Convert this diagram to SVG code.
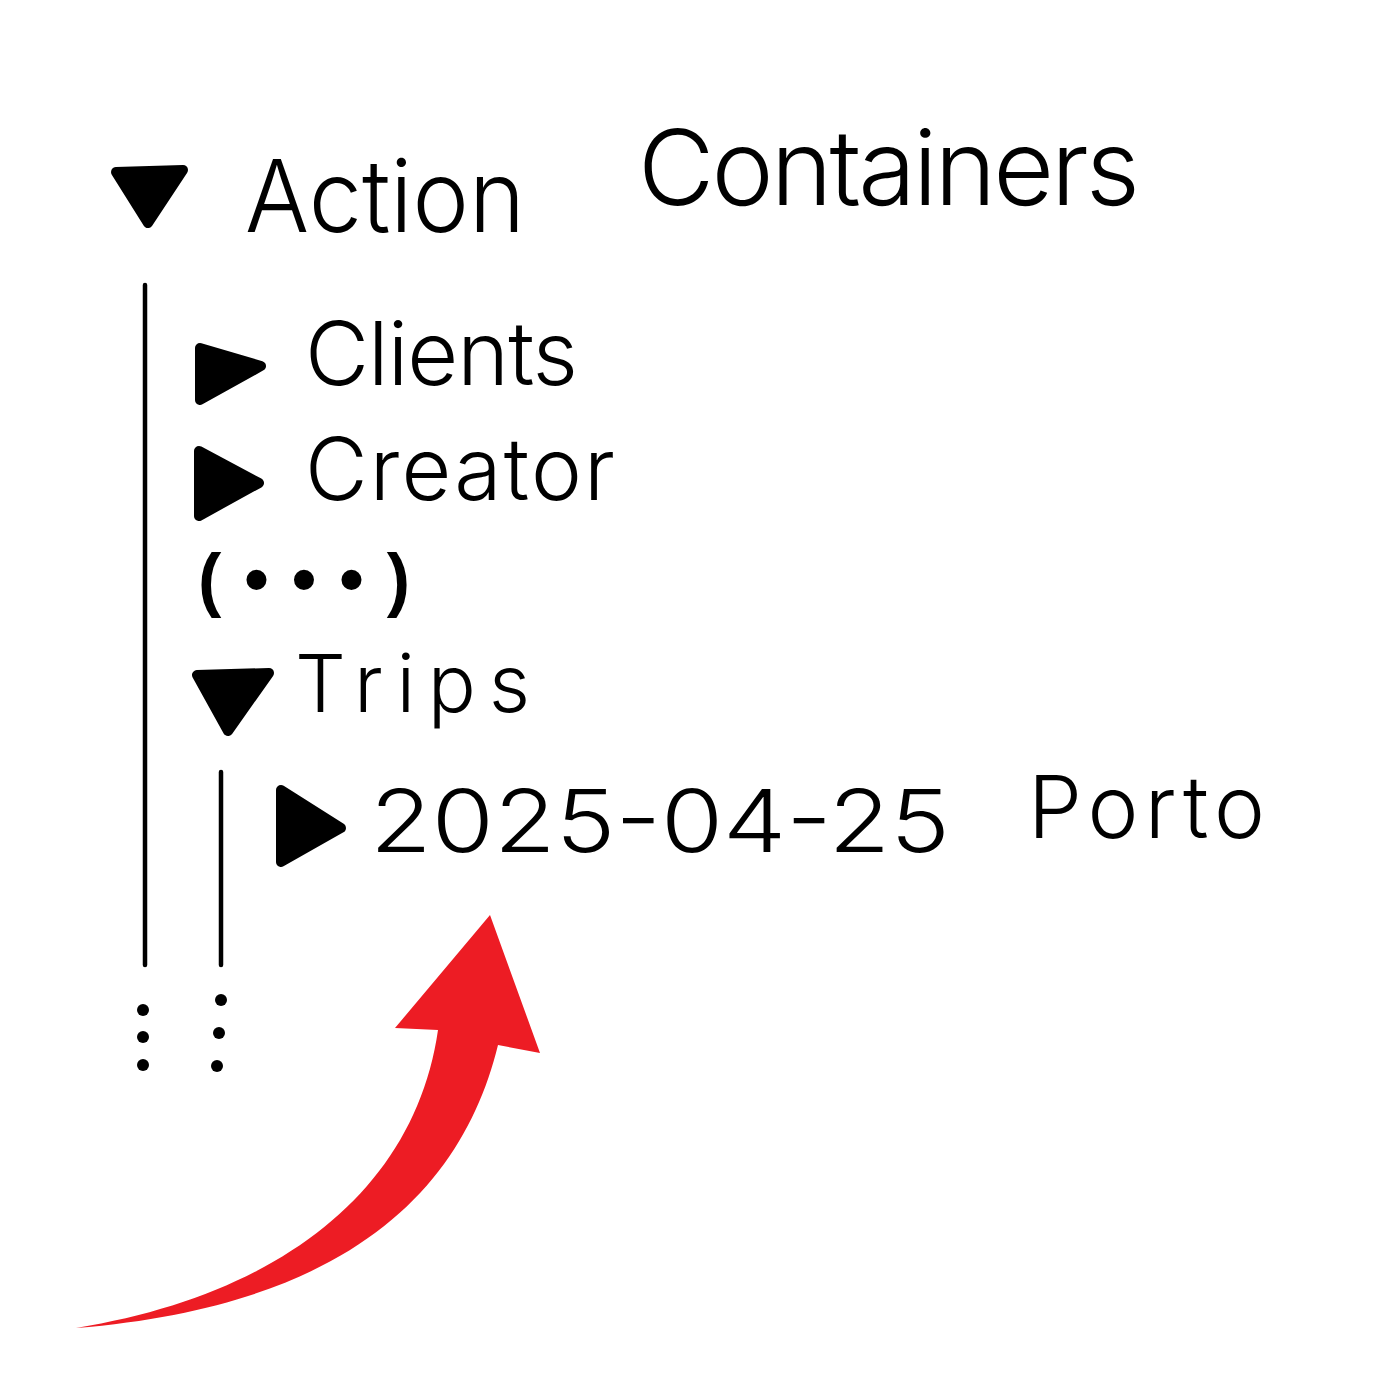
<svg xmlns="http://www.w3.org/2000/svg" width="1400" height="1400" viewBox="0 0 1400 1400">
<style>
.t{font-family:Inter,"Liberation Sans","DejaVu Sans",sans-serif;font-weight:300;fill:#000}
.tri{fill:#000;stroke:#000;stroke-width:10;stroke-linejoin:round}
.ln{stroke:#000;stroke-width:4.5;fill:none;stroke-linecap:round}
</style>
<rect width="1400" height="1400" fill="#fff"/>
<g id="connectors">
<line class="ln" x1="145" y1="285" x2="145" y2="965"/>
<line class="ln" x1="221" y1="772" x2="221" y2="965"/>
<circle cx="143" cy="1010" r="6"/><circle cx="143" cy="1037" r="6"/><circle cx="143" cy="1065" r="6"/>
<circle cx="221" cy="1000" r="6"/><circle cx="219" cy="1033" r="6"/><circle cx="217" cy="1066" r="6"/>
</g>
<g id="node-action-containers">
<polygon class="tri" points="116,172 183,170 148,223"/>
<text class="t" x="245" y="232" font-size="100" textLength="280" lengthAdjust="spacingAndGlyphs">Action</text>
<text class="t" x="638" y="205" font-size="105" textLength="502" lengthAdjust="spacing">Containers</text>
</g>
<g id="node-clients">
<polygon class="tri" points="200,348 261,366 200,400"/>
<text class="t" x="305" y="385" font-size="88" textLength="273" lengthAdjust="spacing">Clients</text>
</g>
<g id="node-creator">
<polygon class="tri" points="199,451 259,483 199,516"/>
<text class="t" x="305" y="500" font-size="86" textLength="310" lengthAdjust="spacing">Creator</text>
</g>
<g id="node-ellipsis">
<text x="198" y="603" font-family="Liberation Sans,sans-serif" font-weight="bold" font-size="70" textLength="212" lengthAdjust="spacing">(•••)</text>
</g>
<g id="node-trips">
<polygon class="tri" points="197,675 269,673 228,731"/>
<text class="t" x="295" y="712" font-size="80" textLength="235" lengthAdjust="spacing">Trips</text>
</g>
<g id="node-trip-porto">
<polygon class="tri" points="281,790 341,828 281,862"/>
<text class="t" x="370" y="852" font-size="86" textLength="580" lengthAdjust="spacingAndGlyphs">2025-04-25</text>
<text class="t" x="1028" y="838" font-size="86" textLength="237" lengthAdjust="spacing">Porto</text>
</g>
<g id="red-arrow">
<path d="M76,1328 C280,1295 415,1190 438,1030 L395,1028 L490,915 L540,1053 L498,1045 C465,1180 360,1305 76,1328 Z" fill="#ed1c24"/>
</g>
</svg>
